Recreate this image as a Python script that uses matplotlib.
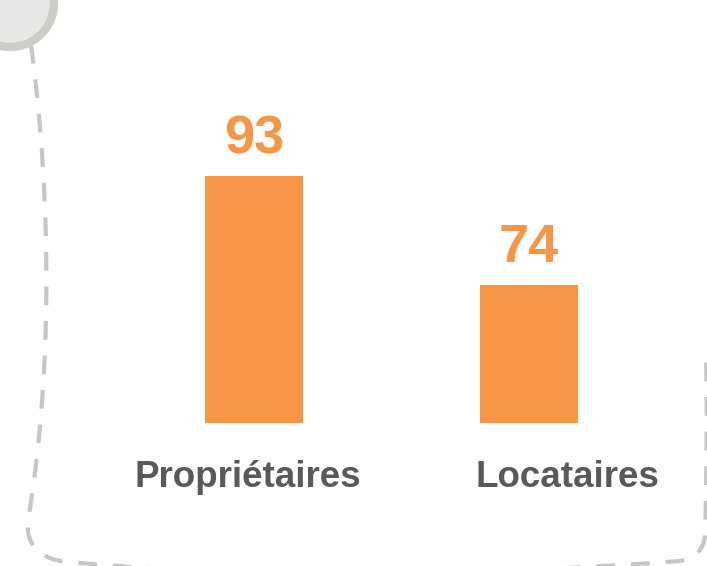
import numpy as np
import matplotlib
matplotlib.use('Agg')
from matplotlib import pyplot as plt
from matplotlib.path import Path
from matplotlib.patches import PathPatch, Circle

# data
categories = ['Propriétaires', 'Locataires']
values = [93, 74]
value_labels = ['93', '74']

orange = '#f79646'
grey_text = '#595959'
plt.rcParams['font.family'] = ['Liberation Sans', 'DejaVu Sans']

W, H = 707, 566
fig = plt.figure(figsize=(W / 100, H / 100), dpi=100)

# background layer in pixel coords for the dashed frame and the circle
bg = fig.add_axes([0, 0, 1, 1])
bg.set_xlim(0, W)
bg.set_ylim(H, 0)
bg.axis('off')

verts = [
    (31, 45),
    (52, 200), (52, 380), (28, 520),          # left edge, slight bow
    (24, 555), (55, 563), (80, 563),          # bottom-left corner
    (250, 578), (480, 576), (680, 561),       # bottom edge, dips off the image
    (695, 558), (704, 550), (705, 535),       # bottom-right corner
    (707, 470), (707, 400), (706, 350),       # right edge
]
codes = [Path.MOVETO] + [Path.CURVE4] * 15
frame = PathPatch(Path(verts, codes), facecolor='none', edgecolor='#c6c6c6',
                  lw=3.0, linestyle=(0, (4.5, 3.8)), capstyle='butt')
bg.add_patch(frame)

bg.add_patch(Circle((10, 3), 44, facecolor='#e8e7e5', edgecolor='#cdccc6', lw=6))

# bar chart area: bars baseline at y=423px, value 50 at baseline
ax = fig.add_axes([117 / W, (H - 423) / H, 549 / W, 287.2 / H])
ax.patch.set_alpha(0)
x = np.arange(len(categories))
ax.bar(x, values, width=0.357, color=orange, bottom=0)
ax.set_xlim(-0.5, 1.5)
ax.set_ylim(50, 100)
ax.axis('off')

for xi, v, lab in zip(x, values, value_labels):
    ax.text(xi, v + 4.0, lab, ha='center', va='baseline', fontsize=39,
            fontweight='bold', color=orange)

label_x = [-0.025, 1.142]
for lx, cat in zip(label_x, categories):
    ax.text(lx, 38.9, cat, ha='center', va='baseline', fontsize=26.5,
            fontweight='bold', color=grey_text, clip_on=False)

fig.savefig('out.png', dpi=100)
